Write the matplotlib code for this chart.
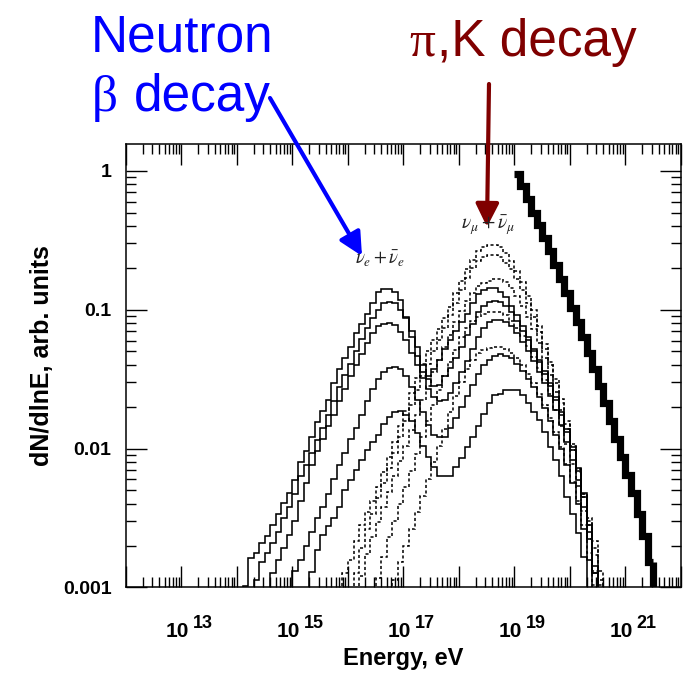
import numpy as np
import matplotlib
matplotlib.use("Agg")
import matplotlib.pyplot as plt
from matplotlib.ticker import LogLocator, FixedLocator, FixedFormatter, NullFormatter

plt.rcParams['font.family'] = ['Liberation Sans', 'DejaVu Sans']

# ---------------- data (histograms, 0.1-decade bins) ----------------
BIN = 0.1  # bin width in log10(E)

# solid: nu_e + anti-nu_e ; values are log10(dN/dlnE) per bin
nue_1_start = 14.1
nue_1 = [-2.99, -2.79, -2.755, -2.68, -2.63, -2.55, -2.47, -2.39, -2.32, -2.23,
         -2.10, -2.02, -1.92, -1.81, -1.73, -1.65, -1.53, -1.43, -1.35, -1.27,
         -1.17, -1.10, -1.03, -0.95, -0.87, -0.851, -0.851, -0.87, -0.93, -1.06,
         -1.20, -1.33, -1.45, -1.48, -1.43, -1.36, -1.28, -1.22, -1.15, -1.09,
         -1.03, -0.95, -0.89, -0.855, -0.846, -0.846, -0.87, -0.91, -0.97, -1.04,
         -1.12, -1.20, -1.28, -1.36, -1.44, -1.53, -1.63, -1.74, -1.86, -1.99,
         -2.14, -2.32, -2.55, -2.85]

nue_2_start = 14.3
nue_2 = [-2.95, -2.82, -2.75, -2.68, -2.60, -2.50, -2.42, -2.33, -2.20, -2.12,
         -2.03, -1.94, -1.85, -1.76, -1.66, -1.56, -1.47, -1.39, -1.30, -1.21,
         -1.13, -1.06, -1.00, -0.955, -0.944, -0.95, -1.00, -1.05, -1.15, -1.27,
         -1.40, -1.50, -1.55, -1.54, -1.48, -1.42, -1.35, -1.27, -1.18, -1.10,
         -1.02, -0.97, -0.945, -0.936, -0.945, -0.97, -1.02, -1.08, -1.15, -1.22,
         -1.30, -1.38, -1.46, -1.55, -1.65, -1.76, -1.88, -2.01, -2.16, -2.35,
         -2.60, -2.90]

nue_3_start = 14.6
nue_3 = [-2.90, -2.80, -2.72, -2.62, -2.52, -2.38, -2.25, -2.12, -2.02, -1.93,
         -1.84, -1.76, -1.66, -1.57, -1.48, -1.40, -1.32, -1.24, -1.17, -1.12,
         -1.10, -1.098, -1.11, -1.16, -1.22, -1.31, -1.40, -1.49, -1.57, -1.63,
         -1.66, -1.65, -1.60, -1.53, -1.45, -1.37, -1.28, -1.20, -1.13, -1.09,
         -1.075, -1.075, -1.09, -1.12, -1.17, -1.23, -1.30, -1.37, -1.45, -1.53,
         -1.62, -1.72, -1.83, -1.95, -2.08, -2.23, -2.42, -2.65, -2.90]

nue_4_start = 15.0
nue_4 = [-2.88, -2.80, -2.70, -2.60, -2.50, -2.42, -2.33, -2.22, -2.12, -2.03,
         -1.93, -1.85, -1.76, -1.66, -1.57, -1.50, -1.45, -1.42, -1.415, -1.43,
         -1.48, -1.56, -1.65, -1.74, -1.83, -1.90, -1.92, -1.92, -1.85, -1.78,
         -1.70, -1.62, -1.54, -1.46, -1.40, -1.36, -1.33, -1.32, -1.33, -1.35,
         -1.39, -1.44, -1.50, -1.56, -1.63, -1.71, -1.80, -1.90, -2.00, -2.12,
         -2.25, -2.40, -2.58, -2.80]

nue_5_start = 15.3
nue_5 = [-2.89, -2.73, -2.62, -2.56, -2.50, -2.42, -2.30, -2.23, -2.155, -2.08,
         -2.01, -1.95, -1.90, -1.82, -1.77, -1.74, -1.73, -1.76, -1.80, -1.89,
         -1.98, -2.06, -2.13, -2.20, -2.20, -2.20, -2.13, -2.07, -1.99, -1.915,
         -1.84, -1.75, -1.67, -1.615, -1.61, -1.58, -1.58, -1.58, -1.615, -1.67,
         -1.735, -1.795, -1.88, -1.99, -2.08, -2.20, -2.35, -2.47, -2.61, -2.78]

# dotted: nu_mu + anti-nu_mu
numu_1_start = 15.9
numu_1 = [-2.90, -2.80, -2.67, -2.55, -2.46, -2.38, -2.28, -2.17, -2.06, -1.95,
          -1.84, -1.73, -1.60, -1.49, -1.39, -1.30, -1.22, -1.14, -1.06, -0.98,
          -0.88, -0.79, -0.71, -0.64, -0.58, -0.55, -0.535, -0.534, -0.55, -0.59,
          -0.65, -0.72, -0.80, -0.90, -1.00, -1.12, -1.25, -1.38, -1.50, -1.64,
          -1.80, -1.97, -2.15, -2.33, -2.50, -2.67, -2.88]

numu_2_start = 16.1
numu_2 = [-2.90, -2.72, -2.58, -2.47, -2.36, -2.25, -2.14, -2.03, -1.92, -1.80,
          -1.69, -1.58, -1.48, -1.39, -1.30, -1.22, -1.13, -1.04, -0.95, -0.86,
          -0.77, -0.70, -0.65, -0.62, -0.606, -0.606, -0.62, -0.66, -0.71, -0.78,
          -0.86, -0.95, -1.05, -1.16, -1.28, -1.40, -1.53, -1.67, -1.82, -1.98,
          -2.15, -2.33, -2.52, -2.72, -2.95]

numu_3_start = 16.2
numu_3 = [-2.92, -2.76, -2.64, -2.53, -2.42, -2.31, -2.20, -2.09, -1.98, -1.87,
          -1.76, -1.65, -1.55, -1.45, -1.36, -1.27, -1.18, -1.09, -1.01, -0.94,
          -0.88, -0.83, -0.81, -0.79, -0.781, -0.781, -0.80, -0.84, -0.90, -0.97,
          -1.05, -1.14, -1.24, -1.35, -1.47, -1.59, -1.72, -1.86, -2.01, -2.17,
          -2.35, -2.55, -2.77, -2.98]

numu_4_start = 16.5
numu_4 = [-2.93, -2.78, -2.64, -2.52, -2.40, -2.28, -2.16, -2.04, -1.92, -1.80,
          -1.69, -1.58, -1.48, -1.38, -1.29, -1.20, -1.13, -1.08, -1.05, -1.03,
          -1.02, -1.017, -1.02, -1.04, -1.08, -1.13, -1.19, -1.26, -1.34, -1.42,
          -1.51, -1.61, -1.72, -1.84, -1.97, -2.11, -2.27, -2.45, -2.65, -2.88]

numu_5_start = 16.8
numu_5 = [-2.95, -2.82, -2.70, -2.58, -2.46, -2.34, -2.22, -2.10, -1.98, -1.86,
          -1.74, -1.62, -1.52, -1.43, -1.36, -1.31, -1.29, -1.275, -1.266, -1.266,
          -1.28, -1.31, -1.35, -1.40, -1.46, -1.53, -1.61, -1.69, -1.78, -1.88,
          -1.99, -2.11, -2.24, -2.38, -2.55, -2.75, -2.98]

# thick: primary spectrum
primary_start = 19.0
primary = [-0.02, -0.11, -0.20, -0.30, -0.39, -0.48, -0.58, -0.68, -0.78, -0.88,
           -0.99, -1.09, -1.20, -1.31, -1.43, -1.55, -1.67, -1.80, -1.93, -2.06,
           -2.19, -2.32, -2.47, -2.63, -2.82]

y_ticks = [1e-3, 1e-2, 1e-1, 1.0]
y_tick_labels = ['0.001', '0.01', '0.1', '1']
x_label_exponents = [13, 15, 17, 19, 21]

# ---------------- figure ----------------
W, H = 689, 673
fig = plt.figure(figsize=(W / 100, H / 100), dpi=100)
ax = fig.add_axes([126 / W, 1 - 587.3 / H, 555 / W, 443.3 / H])
ax.set_xscale('log')
ax.set_yscale('log')
ax.set_xlim(1e12, 1e22)
ax.set_ylim(1e-3, 1.563)

BOTTOM = 1e-6


def edges_for(start, n):
    return 10.0 ** (start + BIN * np.arange(n + 1))


def draw_hist(start, logvals, **kw):
    v = 10.0 ** np.asarray(logvals)
    ax.stairs(v, edges_for(start, len(v)), baseline=BOTTOM, **kw)


solid_kw = dict(color='black', lw=1.15)
dot_kw = dict(color='black', lw=1.1, linestyle=(0, (2.0, 1.6)))

for s, vals in [(numu_1_start, numu_1), (numu_2_start, numu_2), (numu_3_start, numu_3),
                (numu_4_start, numu_4), (numu_5_start, numu_5)]:
    draw_hist(s, vals, **dot_kw)
for s, vals in [(nue_1_start, nue_1), (nue_2_start, nue_2), (nue_3_start, nue_3),
                (nue_4_start, nue_4), (nue_5_start, nue_5)]:
    draw_hist(s, vals, **solid_kw)

pv = 10.0 ** np.asarray(primary)
pe = edges_for(primary_start, len(pv))
ax.stairs(pv, pe, baseline=None, color='black', lw=5.2)
ax.plot([pe[-1], pe[-1]], [pv[-1], BOTTOM], color='black', lw=5.2, solid_capstyle='butt')

# ---------------- axes styling ----------------
for sp in ax.spines.values():
    sp.set_linewidth(1.1)
ax.xaxis.set_major_locator(LogLocator(base=10, numticks=30))
ax.xaxis.set_minor_locator(LogLocator(base=10, subs=np.arange(2, 10), numticks=200))
ax.xaxis.set_major_formatter(NullFormatter())
ax.xaxis.set_minor_formatter(NullFormatter())
ax.yaxis.set_major_locator(FixedLocator(y_ticks))
ax.yaxis.set_major_formatter(FixedFormatter(y_tick_labels))
ax.yaxis.set_minor_locator(LogLocator(base=10, subs=np.arange(2, 10), numticks=200))
ax.yaxis.set_minor_formatter(NullFormatter())
ax.tick_params(which='both', direction='in', top=True, right=True, width=1.0)
ax.tick_params(which='major', length=15)
ax.tick_params(which='minor', length=7.5)
ax.tick_params(axis='y', which='major', labelsize=14, pad=10.5)
for t in ax.get_yticklabels():
    t.set_fontweight('bold')

for k in x_label_exponents:
    ax.annotate('10', xy=(10.0 ** k, 0), xycoords=('data', 'axes fraction'),
                xytext=(8, -50), textcoords='offset pixels', ha='right', va='baseline',
                fontsize=15, fontweight='bold', annotation_clip=False)
    ax.annotate(str(k), xy=(10.0 ** k, 0), xycoords=('data', 'axes fraction'),
                xytext=(11, -41), textcoords='offset pixels', ha='left', va='baseline',
                fontsize=13, fontweight='bold', annotation_clip=False)

fig.text(403 / W, 1 - 659 / H, 'Energy, eV', ha='center', va='center',
         fontsize=17, fontweight='bold')
fig.text(42 / W, 1 - 356 / H, 'dN/dlnE, arb. units', ha='center', va='center',
         rotation=90, fontsize=18, fontweight='bold')

# curve labels
fig.text(355 / W, 1 - 264 / H, r'$\nu_e + \bar{\nu}_e$', fontsize=13.5,
         math_fontfamily='stix', color='#222222', ha='left', va='baseline')
fig.text(461 / W, 1 - 229 / H, r'$\nu_\mu + \bar{\nu}_\mu$', fontsize=14,
         math_fontfamily='stix', color='#222222', ha='left', va='baseline')

# big annotations
BLUE = '#0000ff'
DRED = '#800000'
fig.text(91 / W, 1 - 51 / H, 'Neutron', color=BLUE, fontsize=37, va='baseline', ha='left')
fig.text(92 / W, 1 - 111 / H, 'β', color=BLUE, fontsize=37, va='baseline', ha='left',
         family='Liberation Serif')
fig.text(134 / W, 1 - 111 / H, 'decay', color=BLUE, fontsize=37, va='baseline', ha='left')
fig.text(409 / W, 1 - 56 / H, 'π', color=DRED, fontsize=37, va='baseline', ha='left',
         family='Liberation Serif')
fig.text(437 / W, 1 - 56 / H, ',K decay', color=DRED, fontsize=37, va='baseline', ha='left')

ax.annotate('', xy=(362, H - 256), xytext=(270, H - 98), xycoords='figure pixels',
            textcoords='figure pixels', annotation_clip=False,
            arrowprops=dict(arrowstyle='-|>,head_length=0.7,head_width=0.35', lw=3,
                            color=BLUE, mutation_scale=20, shrinkA=0, shrinkB=0))
ax.annotate('', xy=(487, H - 227), xytext=(489, H - 84), xycoords='figure pixels',
            textcoords='figure pixels', annotation_clip=False,
            arrowprops=dict(arrowstyle='-|>,head_length=0.7,head_width=0.35', lw=3,
                            color=DRED, mutation_scale=20, shrinkA=0, shrinkB=0))

fig.savefig('out.png', dpi=100)
